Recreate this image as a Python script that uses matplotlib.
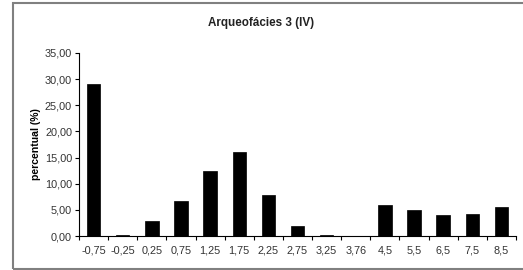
import matplotlib
matplotlib.use("Agg")
import matplotlib.pyplot as plt
from matplotlib.patches import Rectangle

categories = ["-0,75", "-0,25", "0,25", "0,75", "1,25", "1,75", "2,25", "2,75",
              "3,25", "3,76", "4,5", "5,5", "6,5", "7,5", "8,5"]
values = [29.0, 0.2, 2.8, 6.6, 12.5, 16.0, 7.9, 2.0, 0.15, 0.0, 5.9, 5.0, 4.0, 4.3, 5.5]
yticks = [0, 5, 10, 15, 20, 25, 30, 35]
ytick_labels = ["0,00", "5,00", "10,00", "15,00", "20,00", "25,00", "30,00", "35,00"]
title = "Arqueofácies 3 (IV)"
ylabel = "percentual (%)"

plt.rcParams['font.family'] = ['Liberation Sans', 'DejaVu Sans']

fig = plt.figure(figsize=(5.23, 2.70), dpi=100)
fig.patches.append(Rectangle((13/523, 1/270), 1.2, 266/270, transform=fig.transFigure,
                             fill=False, edgecolor='#808080', linewidth=1.5))
ax = fig.add_axes([79/523, 1 - 236/270, (516 - 79)/523, (236 - 53)/270])

x = list(range(len(categories)))
ax.bar(x, values, width=0.46, color='black', edgecolor='black', linewidth=0.5)
ax.set_xlim(-0.5, len(categories) - 0.5)
ax.set_ylim(0, 35)
ax.set_yticks(yticks)
ax.set_yticklabels(ytick_labels, fontsize=7.8, color='#333333')
ax.set_xticks(x)
ax.set_xticklabels(categories, fontsize=7.8, color='#333333')
ax.tick_params(axis='x', length=0, pad=7)
ax.set_xticks([i - 0.5 for i in range(len(categories) + 1)], minor=True)
ax.tick_params(axis='x', which='minor', length=3, width=0.8, direction='out')
ax.tick_params(axis='y', length=3, width=0.8, direction='out', pad=2)
for s in ['top', 'right']:
    ax.spines[s].set_visible(False)
ax.spines['left'].set_linewidth(0.8)
ax.spines['bottom'].set_linewidth(0.8)
ax.set_ylabel(ylabel, fontsize=7.6, fontweight='bold', labelpad=3)
fig.text(261/523, 1 - 23/270, title, fontsize=8.4, fontweight='bold', ha='center', va='center',
         color='#222222')

fig.savefig("out.png", dpi=100)
